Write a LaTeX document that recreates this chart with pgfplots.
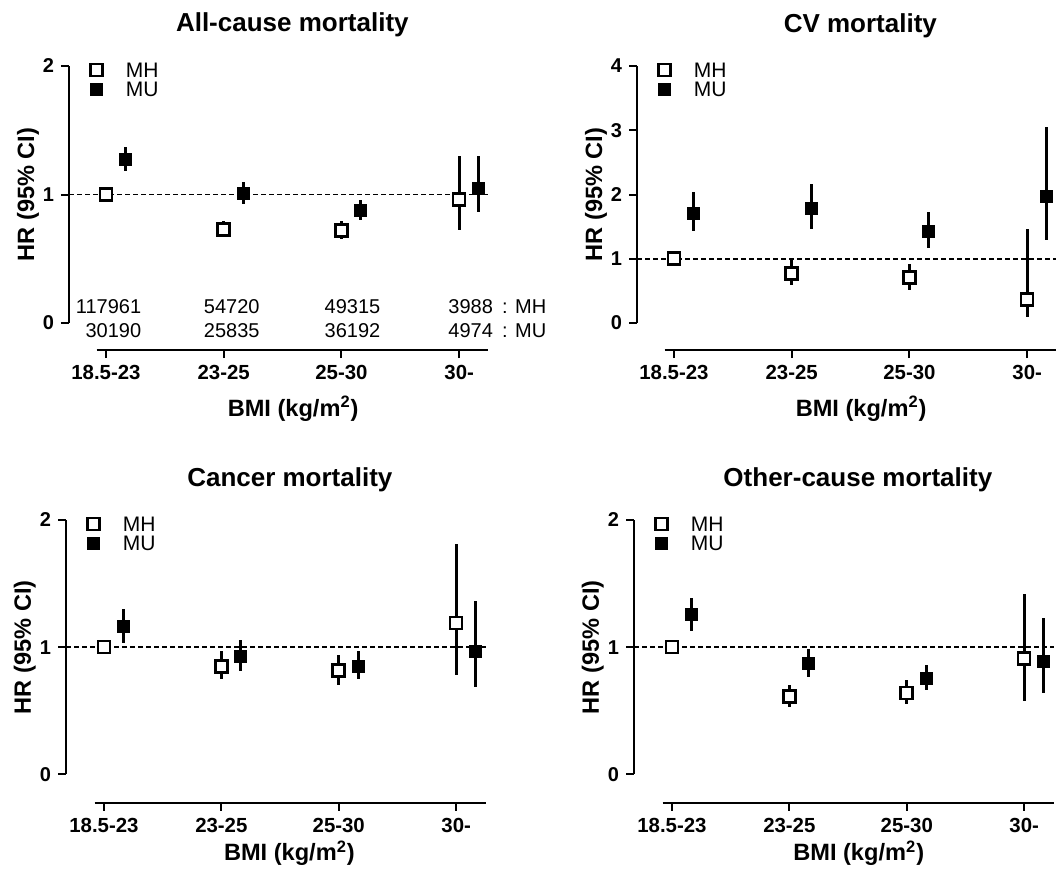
\documentclass[border=0pt]{standalone}
\usepackage{fontspec}
\setmainfont{Liberation Sans}
\usepackage{pgfplots}
\pgfplotsset{compat=1.18}
\usepackage{pgfplotstable}

% All-cause
\pgfplotstableread{
x y lo hi
0 1.00 0.98 1.02
1 0.73 0.67 0.79
2 0.72 0.65 0.79
3 0.96 0.72 1.30
}\AllMH
\pgfplotstableread{
x y lo hi
0.165 1.27 1.18 1.37
1.165 1.01 0.93 1.10
2.165 0.88 0.80 0.96
3.165 1.05 0.86 1.30
}\AllMU
% CV
\pgfplotstableread{
x y lo hi
0 1.00 0.97 1.03
1 0.77 0.59 1.00
2 0.71 0.52 0.92
3 0.37 0.09 1.47
}\CVMH
\pgfplotstableread{
x y lo hi
0.165 1.70 1.43 2.04
1.165 1.78 1.46 2.16
2.165 1.42 1.16 1.73
3.165 1.97 1.29 3.05
}\CVMU
% Cancer
\pgfplotstableread{
x y lo hi
0 1.00 0.98 1.02
1 0.85 0.75 0.97
2 0.815 0.70 0.94
3 1.19 0.78 1.81
}\CaMH
\pgfplotstableread{
x y lo hi
0.165 1.16 1.035 1.30
1.165 0.925 0.81 1.056
2.165 0.847 0.75 0.97
3.165 0.97 0.69 1.36
}\CaMU
% Other
\pgfplotstableread{
x y lo hi
0 1.00 0.98 1.02
1 0.614 0.53 0.705
2 0.64 0.55 0.744
3 0.91 0.574 1.42
}\OtMH
\pgfplotstableread{
x y lo hi
0.165 1.26 1.13 1.39
1.165 0.875 0.765 0.987
2.165 0.757 0.666 0.86
3.165 0.888 0.64 1.23
}\OtMU

\pgfplotsset{
  panel/.style={
    scale only axis,
    anchor=south west,
    width=209.5pt,
    xmin=-0.314, xmax=3.245,
    clip=false,
    axis lines*=left,
    axis line style={draw=none},
    tick align=outside,
    major tick length=4pt,
    major tick style={line width=1pt, black},
    xtick={0,1,2,3},
    xticklabels={18.5-23,23-25,25-30,30-},
    xticklabel style={font=\fontsize{10.2}{12}\selectfont\bfseries},
    yticklabel style={font=\fontsize{10}{12}\selectfont\bfseries},
    title style={at={(axis description cs:0.533,1)}, anchor=base, yshift=11pt, font=\fontsize{13}{15}\selectfont\bfseries},
    xlabel={BMI (kg/m\textsuperscript{2})},
    ylabel={HR (95\% CI)},
    label style={font=\fontsize{11.8}{13}\selectfont\bfseries},
    ylabel style={at={(axis description cs:-0.098,0.5475)}, anchor=center},
    xlabel style={at={(axis description cs:0.535,0)}, anchor=base, yshift=-33pt},
    legend style={at={(axis description cs:0,1)}, anchor=north west, xshift=7.5pt, yshift=1.7pt,
      draw=none, fill=none, inner sep=0pt, outer sep=0pt, row sep=2pt,
      nodes={inner sep=0pt, text height=7.5pt, text depth=0pt, font=\fontsize{10.5}{12}\selectfont}},
    legend cell align=left,
    legend image code/.code={\draw[##1] plot coordinates {(6pt,0pt)}; \path (0pt,0pt) (20.5pt,0pt);},
  },
  mh/.style={only marks, mark=square*, mark size=3.0pt,
    mark options={fill=white, draw=black, line width=1.3pt},
    error bars/.cd, y dir=both, y explicit, error mark=none,
    error bar style={line width=1.5pt, black}},
  mu/.style={only marks, mark=square*, mark size=3.0pt,
    mark options={fill=black, draw=black, line width=0.4pt},
    error bars/.cd, y dir=both, y explicit, error mark=none,
    error bar style={line width=1.5pt, black}},
  ref/.style={black, dash pattern=on 2.5pt off 1.5pt, line width=0.8pt, forget plot},
}

\newcommand{\plotpair}[2]{%
  \addplot[mh] table[x=x, y=y, y error plus expr=\thisrow{hi}-\thisrow{y}, y error minus expr=\thisrow{y}-\thisrow{lo}] {#1};
  \addlegendentry{MH}
  \addplot[mu] table[x=x, y=y, y error plus expr=\thisrow{hi}-\thisrow{y}, y error minus expr=\thisrow{y}-\thisrow{lo}] {#2};
  \addlegendentry{MU}
}

\begin{document}
\begin{tikzpicture}
\path[use as bounding box, clip] (0,0) rectangle (529pt,437.5pt);

% ---------- All-cause ----------
\begin{axis}[panel, at={(34.5pt,262.5pt)}, height=142pt,
  ymin=-0.21, ymax=2, ytick={0,1,2}, yticklabels={0,1,2},
  title={All-cause mortality}]
  \addplot[ref] coordinates {(-0.314,1) (3.245,1)};
  \plotpair{\AllMH}{\AllMU}
  \draw[line width=1pt] (axis cs:-0.314,0) -- (axis cs:-0.314,2);
  \draw[line width=1pt] (axis cs:-0.08,-0.21) -- (axis cs:3.245,-0.21);
  \begin{scope}[every node/.style={inner sep=0pt, font=\fontsize{10}{12}\selectfont}]
  \node[anchor=east] at (axis cs:0.303,0.13) {117961};
  \node[anchor=east] at (axis cs:1.308,0.13) {54720};
  \node[anchor=east] at (axis cs:2.334,0.13) {49315};
  \node[anchor=east] at (axis cs:3.29,0.13) {3988};
  \node[anchor=east] at (axis cs:0.303,-0.057) {30190};
  \node[anchor=east] at (axis cs:1.308,-0.057) {25835};
  \node[anchor=east] at (axis cs:2.334,-0.057) {36192};
  \node[anchor=east] at (axis cs:3.29,-0.057) {4974};
  \node[anchor=west] at (axis cs:3.362,0.13) {: MH};
  \node[anchor=west] at (axis cs:3.362,-0.057) {: MU};
  \end{scope}
\end{axis}

% ---------- CV ----------
\begin{axis}[panel, at={(318.5pt,262.5pt)}, height=142pt,
  ymin=-0.42, ymax=4, ytick={0,1,2,3,4}, yticklabels={0,1,2,3,4},
  title={CV mortality}]
  \addplot[ref] coordinates {(-0.314,1) (3.245,1)};
  \plotpair{\CVMH}{\CVMU}
  \draw[line width=1pt] (axis cs:-0.314,0) -- (axis cs:-0.314,4);
  \draw[line width=1pt] (axis cs:-0.08,-0.42) -- (axis cs:3.245,-0.42);
\end{axis}

% ---------- Cancer ----------
\begin{axis}[panel, at={(33pt,36.15pt)}, height=141.35pt, width=210pt,
  xmin=-0.323, xmax=3.254,
  ymin=-0.223, ymax=2, ytick={0,1,2}, yticklabels={0,1,2},
  ylabel style={at={(axis description cs:-0.098,0.55)}},
  xlabel style={at={(axis description cs:0.532,0)}, yshift=4pt},
  title={Cancer mortality}]
  \addplot[ref] coordinates {(-0.323,1) (3.254,1)};
  \plotpair{\CaMH}{\CaMU}
  \draw[line width=1pt] (axis cs:-0.323,0) -- (axis cs:-0.323,2);
  \draw[line width=1pt] (axis cs:-0.08,-0.223) -- (axis cs:3.254,-0.223);
\end{axis}

% ---------- Other ----------
\begin{axis}[panel, at={(317pt,36.15pt)}, height=141.35pt, width=210pt,
  xmin=-0.323, xmax=3.254,
  ymin=-0.223, ymax=2, ytick={0,1,2}, yticklabels={0,1,2},
  ylabel style={at={(axis description cs:-0.098,0.55)}},
  xlabel style={at={(axis description cs:0.535,0)}, yshift=4pt},
  title={Other-cause mortality}]
  \addplot[ref] coordinates {(-0.323,1) (3.254,1)};
  \plotpair{\OtMH}{\OtMU}
  \draw[line width=1pt] (axis cs:-0.323,0) -- (axis cs:-0.323,2);
  \draw[line width=1pt] (axis cs:-0.08,-0.223) -- (axis cs:3.254,-0.223);
\end{axis}
\end{tikzpicture}
\end{document}
